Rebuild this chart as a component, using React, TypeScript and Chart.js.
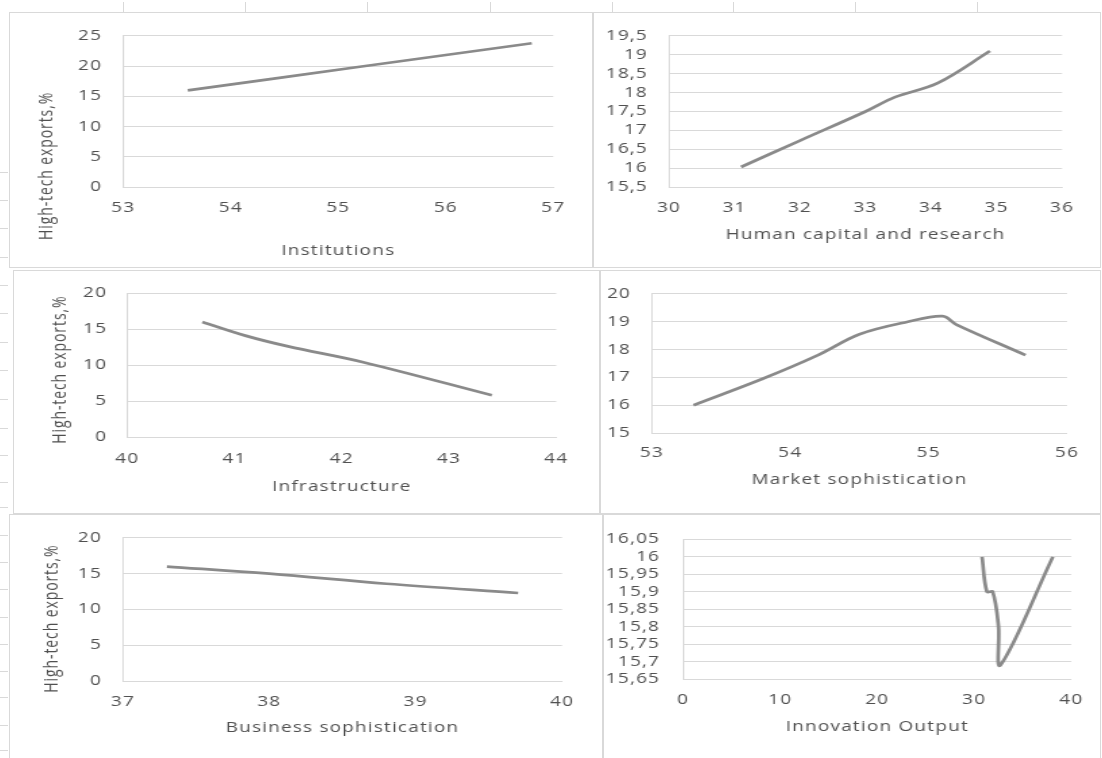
import React, { useEffect, useRef } from 'react';
import { Chart, registerables } from 'chart.js';

Chart.register(...registerables);

// ---------- DATA ----------
const instX = [53.6, 55.2, 56.8];
const instY = [16, 19.9, 23.8];
const instXTicks = [53, 54, 55, 56, 57];
const instYTicks = [0, 5, 10, 15, 20, 25];

const humX = [31.1, 32.0, 33.0, 33.45, 34.1, 34.9];
const humY = [16.03, 16.73, 17.5, 17.88, 18.25, 19.1];
const humXTicks = [30, 31, 32, 33, 34, 35, 36];
const humYTicks = [15.5, 16, 16.5, 17, 17.5, 18, 18.5, 19, 19.5];

const infraX = [40.7, 41.1, 41.5, 42.2, 43.4];
const infraY = [16, 14.1, 12.6, 10.4, 5.8];
const infraXTicks = [40, 41, 42, 43, 44];
const infraYTicks = [0, 5, 10, 15, 20];

const mktX = [53.3, 53.8, 54.2, 54.5, 54.85, 55.1, 55.2, 55.7];
const mktY = [16, 16.95, 17.8, 18.55, 19.0, 19.2, 18.9, 17.8];
const mktXTicks = [53, 54, 55, 56];
const mktYTicks = [15, 16, 17, 18, 19, 20];

const bizX = [37.3, 38, 38.8, 39.7];
const bizY = [16, 15, 13.6, 12.3];
const bizXTicks = [37, 38, 39, 40];
const bizYTicks = [0, 5, 10, 15, 20];

const innX = [30.8, 31.3, 31.9, 32.5, 32.7, 38.1];
const innY = [16, 15.9, 15.9, 15.8, 15.69, 16];
const innXTicks = [0, 10, 20, 30, 40];
const innYTicks = [15.65, 15.7, 15.75, 15.8, 15.85, 15.9, 15.95, 16, 16.05];

const yTitle = 'High-tech exports,%';

// ---------- STYLE / LAYOUT ----------
const STRETCH = 1.35;
const FONT = "'Open Sans', sans-serif";
const TXT = '#505050';
const GRID = '#d9d9d9';
const LINE = '#8a8a8a';
const SPACE_W = 4.54; // width of one space incl. letter spacing, logical px

const fmt = (v: number) => String(Number(v.toFixed(2))).replace('.', ',');

type PanelCfg = {
  xs: number[]; ys: number[]; xTicks: number[]; yTicks: number[];
  xTitle: string; yTitle?: string;
  L: number; T: number; R: number; B: number;
  pl: number; pt: number; pr: number; pb: number;
  tickY: number; titleY: number; yTitleX?: number; yTitleShift?: number; yPad: number;
};

const panels: PanelCfg[] = [
  { xs: instX, ys: instY, xTicks: instXTicks, yTicks: instYTicks, xTitle: 'Institutions', yTitle,
    L: 9, T: 12, R: 593, B: 268, pl: 123, pt: 31, pr: 552, pb: 187, tickY: 208, titleY: 251, yTitleX: 47, yTitleShift: 55, yPad: 21 },
  { xs: humX, ys: humY, xTicks: humXTicks, yTicks: humYTicks, xTitle: 'Human capital and research',
    L: 593, T: 12, R: 1101, B: 268, pl: 669, pt: 31, pr: 1062, pb: 187, tickY: 208, titleY: 235, yPad: 21 },
  { xs: infraX, ys: infraY, xTicks: infraXTicks, yTicks: infraYTicks, xTitle: 'Infrastructure', yTitle,
    L: 13, T: 270, R: 600, B: 514, pl: 127, pt: 290, pr: 555, pb: 437, tickY: 459, titleY: 487, yTitleX: 60, yTitleShift: 5, yPad: 20 },
  { xs: mktX, ys: mktY, xTicks: mktXTicks, yTicks: mktYTicks, xTitle: 'Market sophistication',
    L: 600, T: 270, R: 1101, B: 514, pl: 652, pt: 290, pr: 1067, pb: 433, tickY: 453, titleY: 480, yPad: 21 },
  { xs: bizX, ys: bizY, xTicks: bizXTicks, yTicks: bizYTicks, xTitle: 'Business sophistication', yTitle,
    L: 9, T: 514, R: 603, B: 765, pl: 123, pt: 534, pr: 562, pb: 681, tickY: 702, titleY: 728, yTitleX: 52, yTitleShift: 9, yPad: 21 },
  { xs: innX, ys: innY, xTicks: innXTicks, yTicks: innYTicks, xTitle: 'Innovation Output',
    L: 603, T: 514, R: 1101, B: 765, pl: 683, pt: 533, pr: 1070, pb: 679, tickY: 700, titleY: 727, yPad: 23 },
];

const spacingPlugin = {
  id: 'letterSpacing',
  beforeDraw(chart: any) {
    (chart.ctx as any).letterSpacing = '0.9px';
  },
};

function buildConfig(p: PanelCfg): any {
  const s = STRETCH;
  const font = { family: FONT, size: 14 };
  const lh = 14 * 1.2;
  const shiftSpaces = p.yTitleShift ? ' '.repeat(Math.round((2 * p.yTitleShift) / SPACE_W)) : '';
  return {
    type: 'line',
    data: {
      datasets: [{
        data: p.xs.map((x, i) => ({ x, y: p.ys[i] })),
        borderColor: LINE,
        borderWidth: 2.7,
        pointRadius: 0,
        tension: 0.35,
        fill: false,
      }],
    },
    plugins: [spacingPlugin],
    options: {
      animation: false,
      responsive: true,
      maintainAspectRatio: false,
      events: [],
      layout: { padding: { left: 0, top: p.pt - p.T, right: (p.R - p.pr) / s, bottom: 0 } },
      plugins: { legend: { display: false }, tooltip: { enabled: false } },
      scales: {
        x: {
          type: 'linear',
          min: p.xTicks[0],
          max: p.xTicks[p.xTicks.length - 1],
          afterBuildTicks: (sc: any) => { sc.ticks = p.xTicks.map((v) => ({ value: v })); },
          afterFit: (sc: any) => { sc.height = p.B - p.pb; },
          grid: { display: false, drawTicks: false },
          border: { display: true, color: GRID, width: 1 },
          ticks: { font, color: TXT, padding: p.tickY - p.pb - lh / 2, maxRotation: 0, autoSkip: false, callback: (v: number) => fmt(v) },
          title: { display: true, text: p.xTitle, font, color: TXT, padding: { top: 0, bottom: (p.B - p.titleY) - lh / 2 } },
        },
        y: {
          type: 'linear',
          min: p.yTicks[0],
          max: p.yTicks[p.yTicks.length - 1],
          afterBuildTicks: (sc: any) => { sc.ticks = p.yTicks.map((v) => ({ value: v })); },
          afterFit: (sc: any) => { sc.width = (p.pl - p.L) / s; },
          grid: { display: true, drawTicks: false, color: GRID, lineWidth: 1 },
          border: { display: true, color: GRID, width: 1 },
          ticks: { font, color: TXT, padding: p.yPad / s, autoSkip: false, callback: (v: number) => fmt(v) },
          title: p.yTitle
            ? { display: true, text: p.yTitle + shiftSpaces, font, color: TXT, padding: { top: (p.yTitleX! - p.L) / s - lh / 2, bottom: 0 } }
            : { display: false },
        },
      },
    },
  };
}

function Panel({ p }: { p: PanelCfg }) {
  const ref = useRef<HTMLCanvasElement | null>(null);
  useEffect(() => {
    const chart = new Chart(ref.current as HTMLCanvasElement, buildConfig(p));
    return () => chart.destroy();
  }, [p]);
  return (
    <>
      <div
        style={{
          position: 'absolute', left: p.L, top: p.T,
          width: (p.R - p.L) / STRETCH, height: p.B - p.T,
          transform: `scaleX(${STRETCH})`, transformOrigin: '0 0',
        }}
      >
        <canvas ref={ref} style={{ display: 'block' }} />
      </div>
      <div
        style={{
          position: 'absolute', left: p.L, top: p.T, width: p.R - p.L, height: p.B - p.T,
          border: `1px solid ${GRID}`, boxSizing: 'border-box', pointerEvents: 'none',
        }}
      />
    </>
  );
}

const topMarks = [123, 245, 367, 490, 612, 733, 855, 977];
const leftMarks = [172, 200, 228, 257, 285, 313, 342, 370, 399, 428, 455, 482, 507, 535, 562, 589, 617, 644, 671, 697, 725, 750];

export default function App() {
  return (
    <div style={{ position: 'absolute', left: 0, top: 0, width: 1102, height: 758, overflow: 'hidden', background: '#fff' }}>
      {topMarks.map((x) => (
        <div key={'t' + x} style={{ position: 'absolute', left: x, top: 2, width: 1, height: 10, background: GRID }} />
      ))}
      {leftMarks.map((y) => (
        <div key={'l' + y} style={{ position: 'absolute', left: 0, top: y, width: 8, height: 1, background: GRID }} />
      ))}
      {panels.map((p, i) => (
        <Panel key={i} p={p} />
      ))}
    </div>
  );
}
